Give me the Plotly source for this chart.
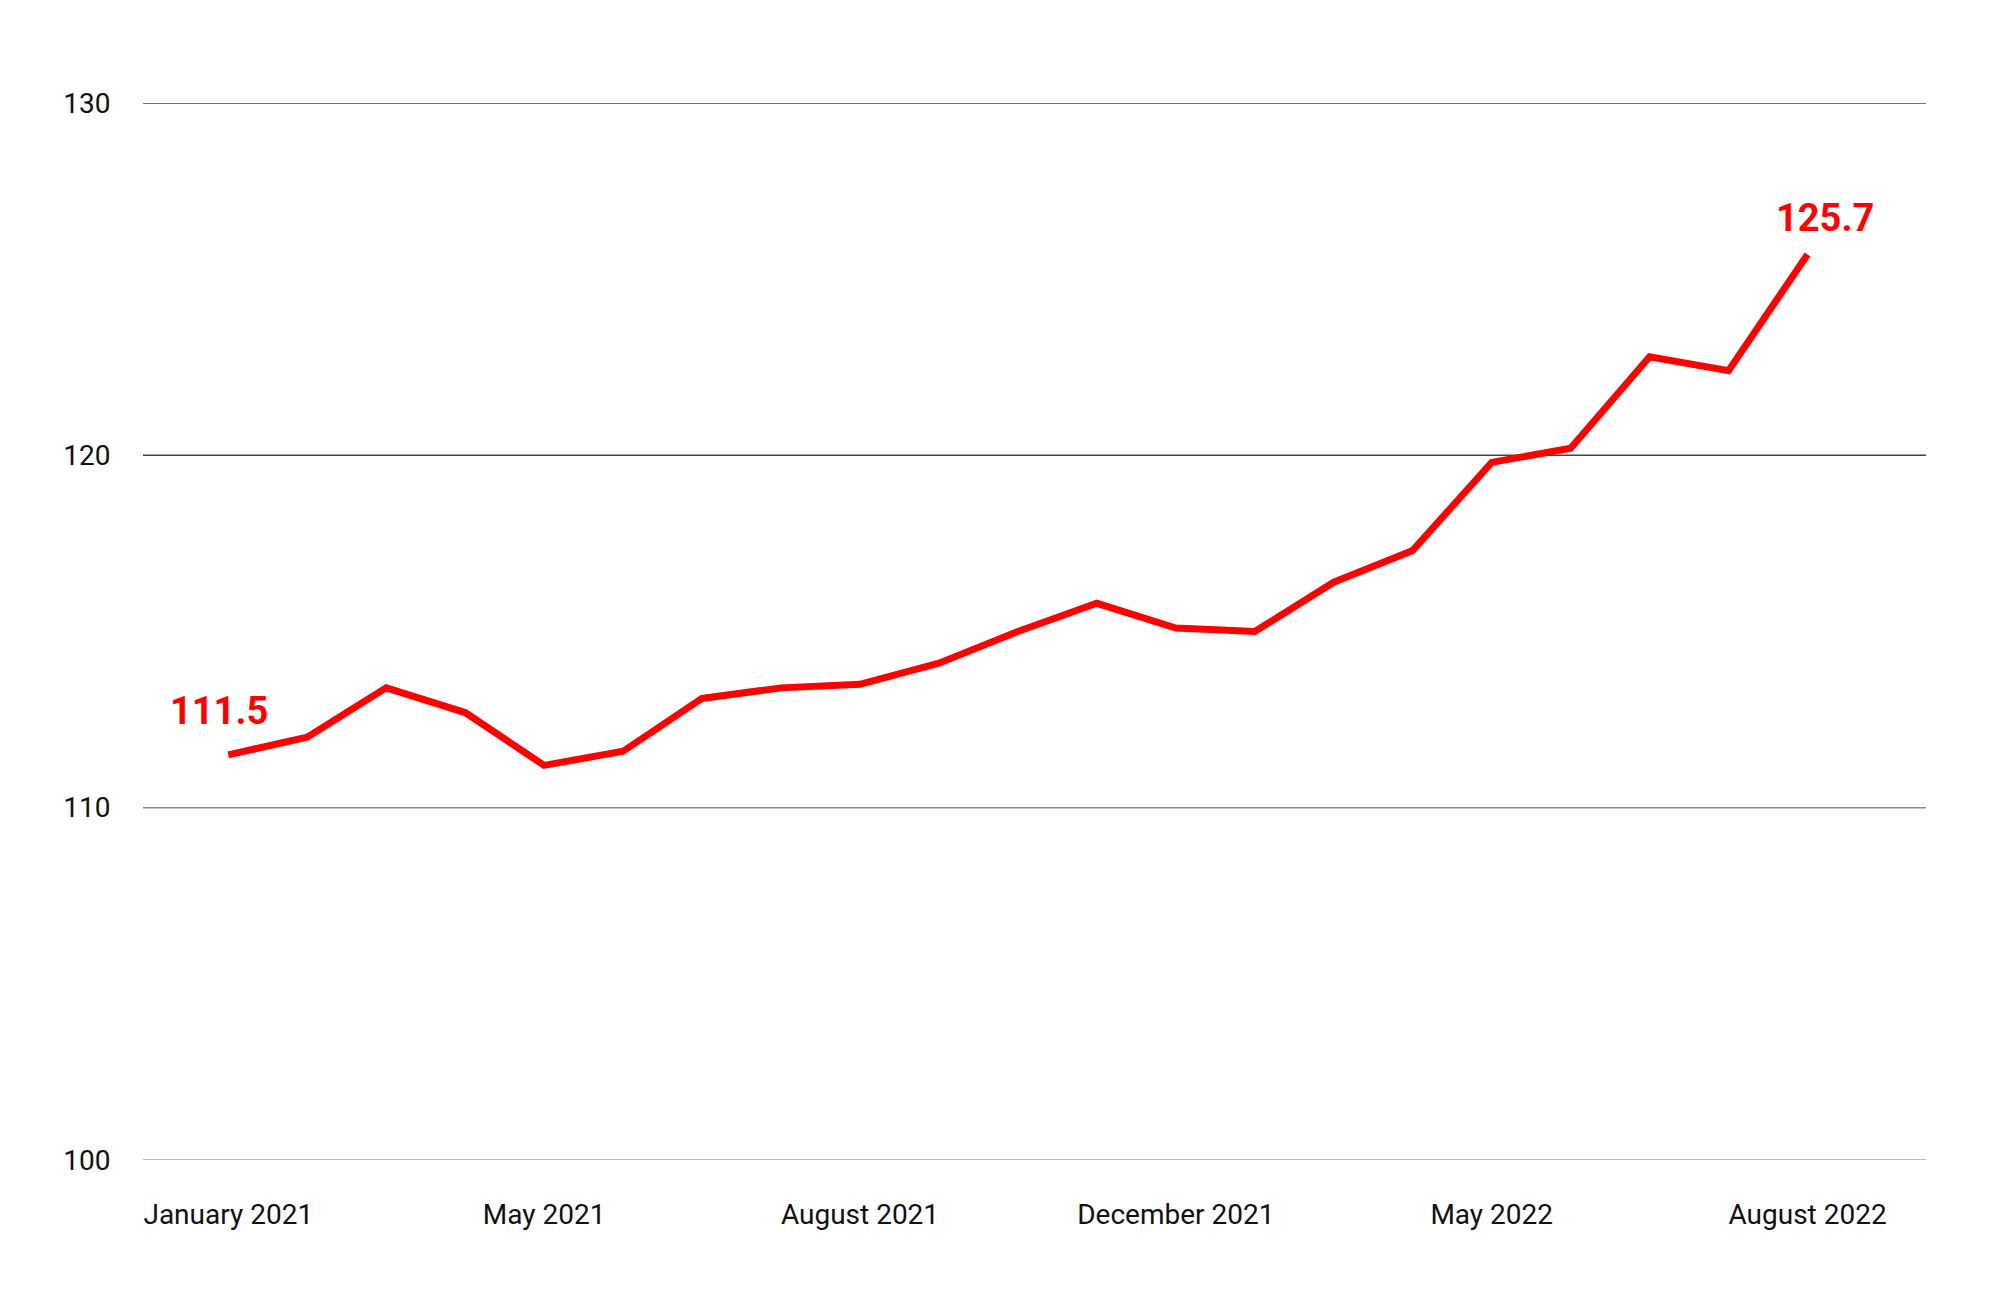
import plotly.graph_objects as go

# ── Data ──────────────────────────────────────────────────────────────────────
months = [
    "January 2021", "Feb 2021", "Mar 2021", "Apr 2021", "May 2021",
    "Jun 2021", "Jul 2021", "August 2021", "Sep 2021", "Oct 2021",
    "Nov 2021", "Dec 2021 a", "December 2021", "Jan 2022", "Feb 2022",
    "Mar 2022", "May 2022", "Jun 2022", "Jul 2022", "Jul 2022 b",
    "August 2022",
]
index_values = [
    111.5, 112.0, 113.4, 112.7, 111.2, 111.6, 113.1, 113.4, 113.5, 114.1,
    115.0, 115.8, 115.1, 115.0, 116.4, 117.3, 119.8, 120.2, 122.8, 122.4,
    125.7,
]
tick_idx = [0, 4, 8, 12, 16, 20]
tick_labels = ["January 2021", "May 2021", "August 2021",
               "December 2021", "May 2022", "August 2022"]
y_ticks = [100, 110, 120, 130]
grid_colors = ["#bdbdbd", "#8a8a8a", "#444444", "#444444"]

RED = "#ff0000"
FONT = "Roboto"

x = list(range(len(index_values)))

fig = go.Figure()
fig.add_trace(go.Scatter(
    x=x, y=index_values, mode="lines",
    line=dict(color=RED, width=7),
    hoverinfo="skip", showlegend=False,
))

# per-line grid colours (they fade toward the bottom in the reference)
for yv, col in zip(y_ticks, grid_colors):
    fig.add_hline(y=yv, line=dict(color=col, width=2 if yv == 100 else 1.5), layer="below")

# first / last value labels
fig.add_annotation(x=x[0], y=index_values[0], text=f"<b>{index_values[0]}</b>",
                   showarrow=False, yshift=44, xshift=-9,
                   font=dict(family=FONT, size=38, color=RED))
fig.add_annotation(x=x[-1], y=index_values[-1], text=f"<b>{index_values[-1]}</b>",
                   showarrow=False, yshift=37, xshift=17,
                   font=dict(family=FONT, size=38, color=RED))

fig.update_layout(
    width=2000, height=1310,
    margin=dict(l=135, r=82, t=95, b=158),
    paper_bgcolor="white", plot_bgcolor="white",
    font=dict(family=FONT, size=28, color="#111111"),
    xaxis=dict(
        range=[-1.08, 21.5], showgrid=False, zeroline=False, showline=False,
        tickmode="array", tickvals=tick_idx, ticktext=tick_labels,
        ticks="outside", ticklen=29, tickcolor="rgba(0,0,0,0)",
    ),
    yaxis=dict(
        range=[100, 130], showgrid=False, zeroline=False, showline=False,
        tickmode="array", tickvals=y_ticks,
        ticks="outside", ticklen=26, tickcolor="rgba(0,0,0,0)",
    ),
)

fig.write_html("out.html")
